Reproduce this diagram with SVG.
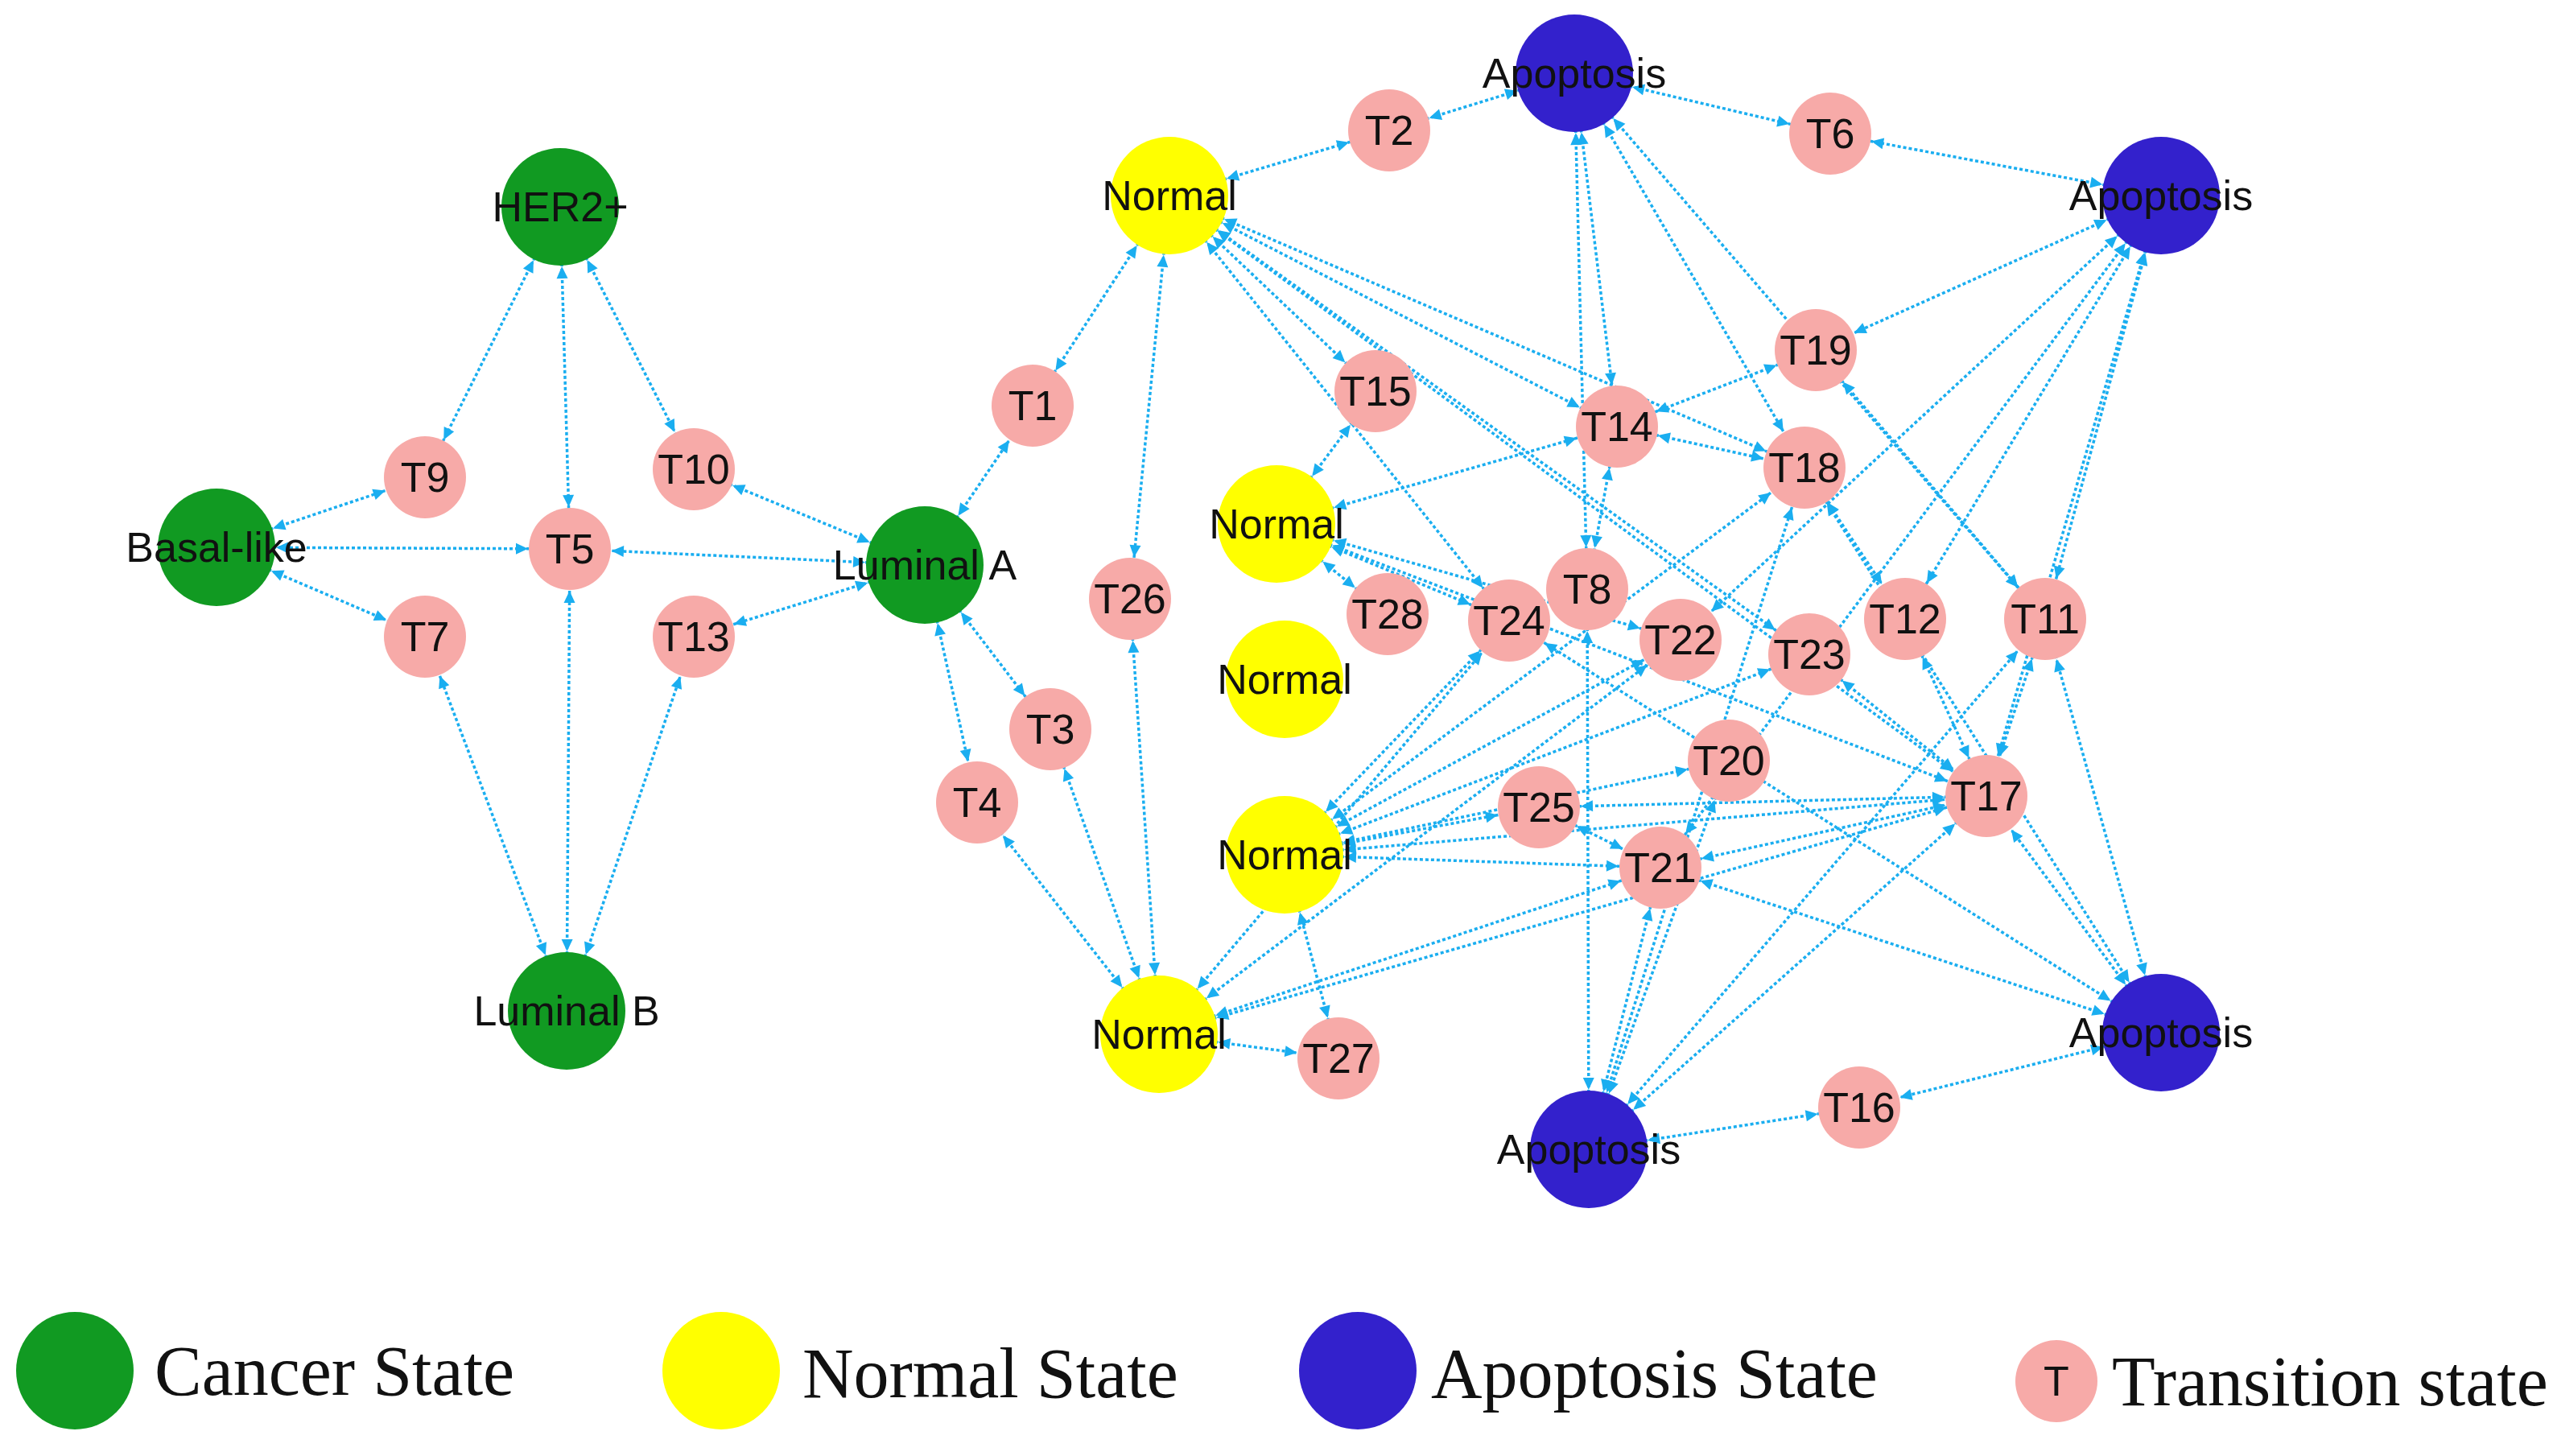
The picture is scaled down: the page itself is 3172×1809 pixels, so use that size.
<svg xmlns="http://www.w3.org/2000/svg" width="3172" height="1809" viewBox="0 0 3172 1809">
<style>
.e line{stroke:#1aaef0;stroke-width:3.5;stroke-dasharray:4 3;fill:none}
.bs{marker-start:url(#mb);marker-end:url(#ms)}
.ss{marker-start:url(#ms);marker-end:url(#ms)}
.c{fill:#119a22}.n{fill:#ffff00}.a{fill:#3321cc}.t{fill:#f7aaa8}
text{font-family:"Liberation Sans",Arial,sans-serif;font-size:52px;fill:#111;text-anchor:middle;dominant-baseline:central}
.lg{font-family:"Liberation Serif","Times New Roman",serif;font-size:88px;text-anchor:start}
</style>
<defs>
<marker id="mb" markerUnits="userSpaceOnUse" orient="auto-start-reverse" overflow="visible" refX="0" refY="0" markerWidth="1" markerHeight="1"><path d="M-74,0 l-15,-7 l0,14 z" fill="#1aaef0"/></marker>
<marker id="ms" markerUnits="userSpaceOnUse" orient="auto-start-reverse" overflow="visible" refX="0" refY="0" markerWidth="1" markerHeight="1"><path d="M-52,0 l-15,-7 l0,14 z" fill="#1aaef0"/></marker>
</defs>
<g id="edges" class="e">
<line class="bs" x1="696" y1="257" x2="528" y2="593"/>
<line class="bs" x1="696" y1="257" x2="708" y2="682"/>
<line class="bs" x1="696" y1="257" x2="862" y2="583"/>
<line class="bs" x1="269" y1="680" x2="528" y2="593"/>
<line class="bs" x1="269" y1="680" x2="708" y2="682"/>
<line class="bs" x1="269" y1="680" x2="528" y2="791"/>
<line class="bs" x1="1149" y1="702" x2="862" y2="583"/>
<line class="bs" x1="1149" y1="702" x2="708" y2="682"/>
<line class="bs" x1="1149" y1="702" x2="862" y2="791"/>
<line class="bs" x1="704" y1="1256" x2="528" y2="791"/>
<line class="bs" x1="704" y1="1256" x2="708" y2="682"/>
<line class="bs" x1="704" y1="1256" x2="862" y2="791"/>
<line class="bs" x1="1149" y1="702" x2="1283" y2="504"/>
<line class="bs" x1="1453" y1="243" x2="1283" y2="504"/>
<line class="bs" x1="1149" y1="702" x2="1305" y2="906"/>
<line class="bs" x1="1149" y1="702" x2="1214" y2="997"/>
<line class="bs" x1="1440" y1="1285" x2="1305" y2="906"/>
<line class="bs" x1="1440" y1="1285" x2="1214" y2="997"/>
<line class="bs" x1="1453" y1="243" x2="1404" y2="744"/>
<line class="bs" x1="1440" y1="1285" x2="1404" y2="744"/>
<line class="bs" x1="1453" y1="243" x2="1726" y2="162"/>
<line class="bs" x1="1956" y1="91" x2="1726" y2="162"/>
<line class="bs" x1="1956" y1="91" x2="2274" y2="166"/>
<line class="bs" x1="2685" y1="243" x2="2274" y2="166"/>
<line class="bs" x1="1453" y1="243" x2="1709" y2="486"/>
<line class="bs" x1="1453" y1="243" x2="2009" y2="530"/>
<line class="bs" x1="1453" y1="243" x2="2242" y2="581"/>
<line class="bs" x1="1453" y1="243" x2="1875" y2="771"/>
<line class="bs" x1="1453" y1="243" x2="2248" y2="813"/>
<line class="bs" x1="1453" y1="243" x2="2468" y2="989"/>
<line class="bs" x1="1956" y1="91" x2="2009" y2="530"/>
<line class="bs" x1="1956" y1="91" x2="1972" y2="732"/>
<line class="bs" x1="1956" y1="91" x2="2242" y2="581"/>
<line class="bs" x1="1956" y1="91" x2="2541" y2="769"/>
<line class="bs" x1="2685" y1="243" x2="2256" y2="435"/>
<line class="bs" x1="2685" y1="243" x2="2367" y2="769"/>
<line class="bs" x1="2685" y1="243" x2="2541" y2="769"/>
<line class="bs" x1="2685" y1="243" x2="2088" y2="795"/>
<line class="bs" x1="2685" y1="243" x2="2063" y2="1078"/>
<line class="bs" x1="2685" y1="243" x2="2468" y2="989"/>
<line class="bs" x1="1586" y1="651" x2="1709" y2="486"/>
<line class="bs" x1="1586" y1="651" x2="2009" y2="530"/>
<line class="bs" x1="1586" y1="651" x2="1875" y2="771"/>
<line class="bs" x1="1586" y1="651" x2="1724" y2="763"/>
<line class="bs" x1="1586" y1="651" x2="2088" y2="795"/>
<line class="bs" x1="1586" y1="651" x2="2468" y2="989"/>
<line class="ss" x1="2256" y1="435" x2="2009" y2="530"/>
<line class="ss" x1="2009" y1="530" x2="2242" y2="581"/>
<line class="ss" x1="2009" y1="530" x2="1972" y2="732"/>
<line class="bs" x1="1974" y1="1428" x2="1972" y2="732"/>
<line class="bs" x1="1596" y1="1062" x2="1875" y2="771"/>
<line class="bs" x1="1596" y1="1062" x2="2242" y2="581"/>
<line class="bs" x1="1596" y1="1062" x2="2088" y2="795"/>
<line class="bs" x1="1596" y1="1062" x2="2248" y2="813"/>
<line class="bs" x1="1596" y1="1062" x2="1912" y2="1003"/>
<line class="bs" x1="1596" y1="1062" x2="2063" y2="1078"/>
<line class="bs" x1="1596" y1="1062" x2="2148" y2="945"/>
<line class="bs" x1="1596" y1="1062" x2="2468" y2="989"/>
<line class="bs" x1="1596" y1="1062" x2="1663" y2="1315"/>
<line class="bs" x1="1440" y1="1285" x2="1875" y2="771"/>
<line class="bs" x1="1440" y1="1285" x2="2063" y2="1078"/>
<line class="bs" x1="1440" y1="1285" x2="2468" y2="989"/>
<line class="bs" x1="1440" y1="1285" x2="2088" y2="795"/>
<line class="bs" x1="1440" y1="1285" x2="1663" y2="1315"/>
<line class="bs" x1="1974" y1="1428" x2="2063" y2="1078"/>
<line class="bs" x1="1974" y1="1428" x2="2148" y2="945"/>
<line class="bs" x1="1974" y1="1428" x2="2468" y2="989"/>
<line class="bs" x1="1974" y1="1428" x2="2541" y2="769"/>
<line class="bs" x1="1974" y1="1428" x2="2310" y2="1376"/>
<line class="bs" x1="1974" y1="1428" x2="2242" y2="581"/>
<line class="ss" x1="2367" y1="769" x2="2468" y2="989"/>
<line class="ss" x1="2541" y1="769" x2="2468" y2="989"/>
<line class="ss" x1="2248" y1="813" x2="2468" y2="989"/>
<line class="ss" x1="1912" y1="1003" x2="2063" y2="1078"/>
<line class="ss" x1="1912" y1="1003" x2="2468" y2="989"/>
<line class="ss" x1="2063" y1="1078" x2="2468" y2="989"/>
<line class="bs" x1="2685" y1="1283" x2="2063" y2="1078"/>
<line class="bs" x1="2685" y1="1283" x2="2468" y2="989"/>
<line class="bs" x1="2685" y1="1283" x2="2541" y2="769"/>
<line class="bs" x1="2685" y1="1283" x2="2310" y2="1376"/>
<line class="bs" x1="2685" y1="1283" x2="2242" y2="581"/>
<line class="bs" x1="2685" y1="1283" x2="1875" y2="771"/>
<line class="ss" x1="2256" y1="435" x2="2541" y2="769"/>
<line class="ss" x1="2242" y1="581" x2="2367" y2="769"/>
</g>
<g id="HER2"><circle class="c" cx="696" cy="257" r="73"/><text x="696" y="257">HER2+</text></g>
<g id="Basal"><circle class="c" cx="269" cy="680" r="73"/><text x="269" y="680">Basal-like</text></g>
<g id="LumA"><circle class="c" cx="1149" cy="702" r="73"/><text x="1149" y="702">Luminal A</text></g>
<g id="LumB"><circle class="c" cx="704" cy="1256" r="73"/><text x="704" y="1256">Luminal B</text></g>
<g id="N1"><circle class="n" cx="1453" cy="243" r="73"/><text x="1453" y="243">Normal</text></g>
<g id="N2"><circle class="n" cx="1586" cy="651" r="73"/><text x="1586" y="651">Normal</text></g>
<g id="N3"><circle class="n" cx="1596" cy="844" r="73"/><text x="1596" y="844">Normal</text></g>
<g id="N4"><circle class="n" cx="1596" cy="1062" r="73"/><text x="1596" y="1062">Normal</text></g>
<g id="N5"><circle class="n" cx="1440" cy="1285" r="73"/><text x="1440" y="1285">Normal</text></g>
<g id="A1"><circle class="a" cx="1956" cy="91" r="73"/><text x="1956" y="91">Apoptosis</text></g>
<g id="A2"><circle class="a" cx="2685" cy="243" r="73"/><text x="2685" y="243">Apoptosis</text></g>
<g id="A3"><circle class="a" cx="1974" cy="1428" r="73"/><text x="1974" y="1428">Apoptosis</text></g>
<g id="A4"><circle class="a" cx="2685" cy="1283" r="73"/><text x="2685" y="1283">Apoptosis</text></g>
<g id="T1"><circle class="t" cx="1283" cy="504" r="51"/><text x="1283" y="504">T1</text></g>
<g id="T2"><circle class="t" cx="1726" cy="162" r="51"/><text x="1726" y="162">T2</text></g>
<g id="T3"><circle class="t" cx="1305" cy="906" r="51"/><text x="1305" y="906">T3</text></g>
<g id="T4"><circle class="t" cx="1214" cy="997" r="51"/><text x="1214" y="997">T4</text></g>
<g id="T5"><circle class="t" cx="708" cy="682" r="51"/><text x="708" y="682">T5</text></g>
<g id="T6"><circle class="t" cx="2274" cy="166" r="51"/><text x="2274" y="166">T6</text></g>
<g id="T7"><circle class="t" cx="528" cy="791" r="51"/><text x="528" y="791">T7</text></g>
<g id="T8"><circle class="t" cx="1972" cy="732" r="51"/><text x="1972" y="732">T8</text></g>
<g id="T9"><circle class="t" cx="528" cy="593" r="51"/><text x="528" y="593">T9</text></g>
<g id="T10"><circle class="t" cx="862" cy="583" r="51"/><text x="862" y="583">T10</text></g>
<g id="T11"><circle class="t" cx="2541" cy="769" r="51"/><text x="2541" y="769">T11</text></g>
<g id="T12"><circle class="t" cx="2367" cy="769" r="51"/><text x="2367" y="769">T12</text></g>
<g id="T13"><circle class="t" cx="862" cy="791" r="51"/><text x="862" y="791">T13</text></g>
<g id="T14"><circle class="t" cx="2009" cy="530" r="51"/><text x="2009" y="530">T14</text></g>
<g id="T15"><circle class="t" cx="1709" cy="486" r="51"/><text x="1709" y="486">T15</text></g>
<g id="T16"><circle class="t" cx="2310" cy="1376" r="51"/><text x="2310" y="1376">T16</text></g>
<g id="T17"><circle class="t" cx="2468" cy="989" r="51"/><text x="2468" y="989">T17</text></g>
<g id="T18"><circle class="t" cx="2242" cy="581" r="51"/><text x="2242" y="581">T18</text></g>
<g id="T19"><circle class="t" cx="2256" cy="435" r="51"/><text x="2256" y="435">T19</text></g>
<g id="T20"><circle class="t" cx="2148" cy="945" r="51"/><text x="2148" y="945">T20</text></g>
<g id="T21"><circle class="t" cx="2063" cy="1078" r="51"/><text x="2063" y="1078">T21</text></g>
<g id="T22"><circle class="t" cx="2088" cy="795" r="51"/><text x="2088" y="795">T22</text></g>
<g id="T23"><circle class="t" cx="2248" cy="813" r="51"/><text x="2248" y="813">T23</text></g>
<g id="T24"><circle class="t" cx="1875" cy="771" r="51"/><text x="1875" y="771">T24</text></g>
<g id="T25"><circle class="t" cx="1912" cy="1003" r="51"/><text x="1912" y="1003">T25</text></g>
<g id="T26"><circle class="t" cx="1404" cy="744" r="51"/><text x="1404" y="744">T26</text></g>
<g id="T27"><circle class="t" cx="1663" cy="1315" r="51"/><text x="1663" y="1315">T27</text></g>
<g id="T28"><circle class="t" cx="1724" cy="763" r="51"/><text x="1724" y="763">T28</text></g>
<g id="legend">
<circle class="c" cx="93" cy="1703" r="73"/><text class="lg" x="192" y="1703">Cancer State</text>
<circle class="n" cx="896" cy="1703" r="73"/><text class="lg" x="997" y="1706">Normal State</text>
<circle class="a" cx="1687" cy="1703" r="73"/><text class="lg" x="1778" y="1706">Apoptosis State</text>
<circle class="t" cx="2555" cy="1716" r="51"/><text x="2555" y="1716">T</text><text class="lg" x="2624" y="1716">Transition state</text>
</g>
</svg>
